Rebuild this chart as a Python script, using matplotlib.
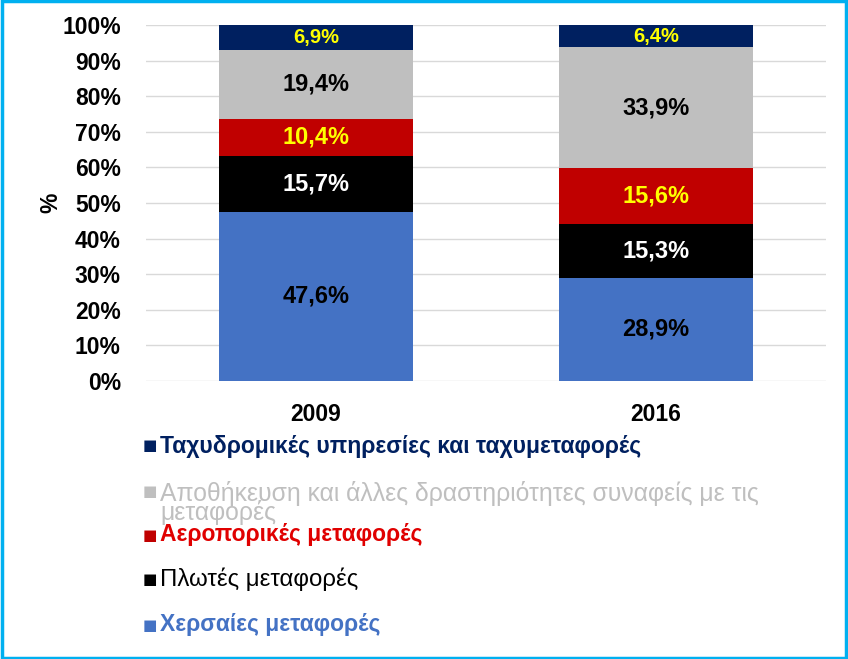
import matplotlib
matplotlib.use('Agg')
from matplotlib import pyplot as plt
from matplotlib import font_manager

# data
years = ['2009', '2016']
series = ['Χερσαίες μεταφορές', 'Πλωτές μεταφορές', 'Αεροπορικές μεταφορές',
          'Αποθήκευση και άλλες δραστηριότητες συναφείς με τις\nμεταφορές',
          'Ταχυδρομικές υπηρεσίες και ταχυμεταφορές']
values = [
    [47.6, 28.9],
    [15.7, 15.3],
    [10.4, 15.6],
    [19.4, 33.9],
    [6.9, 6.4],
]
colors = ['#4472C4', '#000000', '#C00000', '#BFBFBF', '#002060']
label_colors = ['black', 'white', '#FFFF00', 'black', '#FFFF00']
label_sizes = [17, 17, 17, 17, 14.5]
legend_text_colors = ['#4472C4', '#000000', '#E00000', '#BFBFBF', '#002060']
legend_weights = ['bold', 'normal', 'bold', 'normal', 'bold']
legend_sizes = [16.5, 17.3, 16.5, 17.8, 16.5]

names = {f.name for f in font_manager.fontManager.ttflist}
legend_font = 'Liberation Sans Narrow' if 'Liberation Sans Narrow' in names else 'Liberation Sans'

plt.rcParams['font.family'] = ['Liberation Sans', 'DejaVu Sans']

fig = plt.figure(figsize=(8.48, 6.59), dpi=100)
ax = fig.add_axes([0.172, 0.422, 0.802, 0.540])

x = range(len(years))
bottom = [0, 0]
for vals, c, lc, fs in zip(values, colors, label_colors, label_sizes):
    bars = ax.bar(x, vals, width=0.57, bottom=bottom, color=c, zorder=3)
    for b, v, y0 in zip(bars, vals, bottom):
        ax.text(b.get_x() + b.get_width() / 2, y0 + v / 2, f'{v:.1f}%'.replace('.', ','),
                ha='center', va='center', color=lc, fontsize=fs, fontweight='bold', zorder=4)
    bottom = [b0 + v for b0, v in zip(bottom, vals)]

ax.set_xlim(-0.5, 1.5)
ax.set_ylim(0, 100)
ax.set_yticks(range(0, 101, 10))
ax.set_yticklabels([f'{t}%' for t in range(0, 101, 10)])
ax.set_xticks(list(x))
ax.set_xticklabels(years)
ax.tick_params(axis='both', length=0, labelsize=16.5)
ax.tick_params(axis='x', pad=16)
ax.tick_params(axis='y', pad=18)
for lab in ax.get_xticklabels() + ax.get_yticklabels():
    lab.set_fontweight('bold')
ax.yaxis.grid(True, color='#D9D9D9', linewidth=1, zorder=0)
for s in ax.spines.values():
    s.set_visible(False)
ax.set_ylabel('%', fontsize=16.5, fontweight='bold', labelpad=0)

# legend drawn as text, top entry last in the series list
rows_y = [625, 579, 535, 481, 446]
for name, tc, sc, w, fs, yy in zip(series, legend_text_colors, colors, legend_weights,
                                   legend_sizes, rows_y):
    wrapped = '\n' in name
    fig.text(143 / 848, 1 - (yy + (11 if wrapped else 0)) / 659, '■', color=sc, fontsize=11,
             va='center', ha='left', family='DejaVu Sans')
    fig.text(160 / 848, 1 - yy / 659, name, color=tc, fontsize=fs,
             va='top' if wrapped else 'center', ha='left', fontweight=w,
             family=[legend_font, 'DejaVu Sans'], linespacing=0.72)

# figure border
fig.patches.append(plt.Rectangle((0.002, 0.002), 0.996, 0.996, transform=fig.transFigure,
                                 fill=False, edgecolor='#00B0F0', linewidth=2.5))

fig.savefig('out.png', dpi=100)
